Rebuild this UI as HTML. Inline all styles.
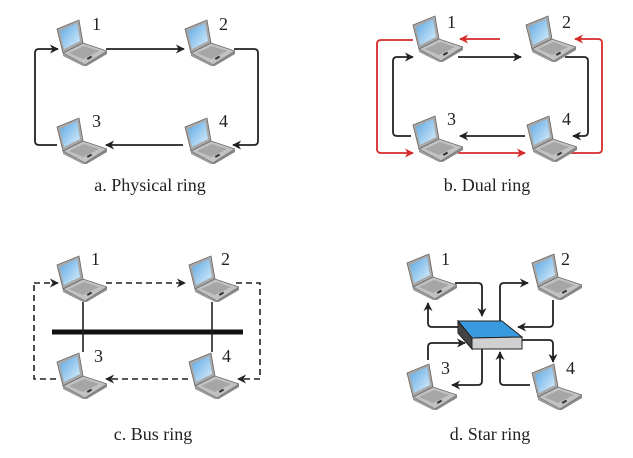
<!DOCTYPE html>
<html><head><meta charset="utf-8"><style>html,body{margin:0;padding:0;background:#fff}svg{display:block}</style></head>
<body>
<svg width="633" height="458" viewBox="0 0 633 458" xmlns="http://www.w3.org/2000/svg" font-family="Liberation Serif, serif">
<defs>
<linearGradient id="scr" x1="0" y1="0" x2="1" y2="1"><stop offset="0" stop-color="#5aa6e2"/><stop offset="1" stop-color="#dcf0fc"/></linearGradient>
<symbol id="lap" viewBox="0 0 52 47" width="52" height="47">
<polygon points="2,10 24,1 28,24 8,34" fill="#a8a8a8" stroke="#666" stroke-width="0.8"/>
<polygon points="5,12 22,4 25,22 9,30" fill="url(#scr)"/>
<polygon points="8,34 28,24 52,32 30,46" fill="#c2c2c2" stroke="#666" stroke-width="0.8"/>
<polygon points="30,46 52,32 52,35 30,48" fill="#888"/>
<polygon points="8,34 30,46 30,48 8,37" fill="#999"/>
<polygon points="14,34 29,27 44,32 28,40" fill="#a6a6a6"/>
<rect x="32" y="38" width="5" height="2" fill="#333" transform="rotate(-30 34 39)"/>
</symbol>
<marker id="ah" viewBox="0 0 10 10" refX="9" refY="5" markerWidth="9" markerHeight="9" markerUnits="userSpaceOnUse" orient="auto"><path d="M0,0 L10,5 L0,10 L3,5 Z" fill="#222"/></marker>
<marker id="ar" viewBox="0 0 10 10" refX="9" refY="5" markerWidth="9" markerHeight="9" markerUnits="userSpaceOnUse" orient="auto"><path d="M0,0 L10,5 L0,10 L3,5 Z" fill="#d42a2a"/></marker>
</defs>
<g fill="none" stroke="#222" stroke-width="1.8" stroke-linejoin="round">
<path d="M106,49 H184" marker-end="url(#ah)"/>
<path d="M234,49 H254 Q258,49 258,53 V141 Q258,145 254,145 H233" marker-end="url(#ah)"/>
<path d="M183,145 H106" marker-end="url(#ah)"/>
<path d="M57,145 H39 Q35,145 35,141 V53 Q35,49 39,49 H58" marker-end="url(#ah)"/>
<path d="M458,57 H521" marker-end="url(#ah)"/>
<path d="M565,57 H584 Q588,57 588,61 V132 Q588,136 584,136 H573" marker-end="url(#ah)"/>
<path d="M525,136 H460" marker-end="url(#ah)"/>
<path d="M411,136 H397 Q393,136 393,132 V61 Q393,57 397,57 H413" marker-end="url(#ah)"/>
</g>
<g fill="none" stroke="#d42a2a" stroke-width="1.8" stroke-linejoin="round">
<path d="M500,39 H460" marker-end="url(#ar)"/>
<path d="M413,40 H381 Q377,40 377,44 V149 Q377,153 381,153 H413" marker-end="url(#ar)"/>
<path d="M458,153 H525" marker-end="url(#ar)"/>
<path d="M565,153 H598 Q602,153 602,149 V43 Q602,39 598,39 H575" marker-end="url(#ar)"/>
</g>
<g fill="none" stroke="#222" stroke-width="1.6" stroke-dasharray="6,4">
<path d="M34,283 H58" marker-end="url(#ah)"/>
<path d="M106,283 H185" marker-end="url(#ah)"/>
<path d="M236,283 H260 V379 H238" marker-end="url(#ah)"/>
<path d="M188,379 H106" marker-end="url(#ah)"/>
<path d="M56,379 H34 V283"/>
</g>
<line x1="52" y1="332" x2="243" y2="332" stroke="#111" stroke-width="5"/>
<line x1="83" y1="302" x2="83" y2="352" stroke="#222" stroke-width="1.6"/>
<line x1="212" y1="302" x2="212" y2="352" stroke="#222" stroke-width="1.6"/>
<g fill="none" stroke="#222" stroke-width="1.8" stroke-linejoin="round">
<path d="M455,283 H478 Q482,283 482,287 V316" marker-end="url(#ah)"/>
<path d="M458,327 H432 Q428,327 428,323 V303" marker-end="url(#ah)"/>
<path d="M500,321 V287 Q500,283 504,283 H528" marker-end="url(#ah)"/>
<path d="M553,300 V323 Q553,327 549,327 H518" marker-end="url(#ah)"/>
<path d="M522,340 H549 Q553,340 553,344 V362" marker-end="url(#ah)"/>
<path d="M530,385 H504 Q500,385 500,381 V352" marker-end="url(#ah)"/>
<path d="M482,348 V381 Q482,385 478,385 H452" marker-end="url(#ah)"/>
<path d="M428,360 V347 Q428,343 432,343 H465" marker-end="url(#ah)"/>
</g>
<polygon points="458,321 502,321 522,337 472,338" fill="#3a9ae0" stroke="#222" stroke-width="1"/>
<polygon points="472,338 522,337 522,349 472,349" fill="#d0d0d0" stroke="#222" stroke-width="1"/>
<polygon points="458,321 472,338 472,349 458,333" fill="#444" stroke="#222" stroke-width="1"/>
<use href="#lap" x="55" y="19"/><use href="#lap" x="183" y="19"/><use href="#lap" x="55" y="117"/><use href="#lap" x="183" y="117"/>
<use href="#lap" x="411" y="15"/><use href="#lap" x="524" y="15"/><use href="#lap" x="411" y="115"/><use href="#lap" x="525" y="115"/>
<use href="#lap" x="55" y="255"/><use href="#lap" x="187" y="255"/><use href="#lap" x="55" y="352"/><use href="#lap" x="187" y="352"/>
<use href="#lap" x="405" y="253"/><use href="#lap" x="530" y="253"/><use href="#lap" x="405" y="363"/><use href="#lap" x="530" y="363"/>
<g font-size="18" fill="#222">
<text x="92" y="30">1</text><text x="219" y="30">2</text><text x="92" y="127">3</text><text x="219" y="127">4</text>
<text x="447" y="28">1</text><text x="562" y="28">2</text><text x="447" y="125">3</text><text x="562" y="125">4</text>
<text x="91" y="265">1</text><text x="221" y="265">2</text><text x="94" y="362">3</text><text x="222" y="362">4</text>
<text x="441" y="265">1</text><text x="561" y="265">2</text><text x="441" y="374">3</text><text x="566" y="374">4</text>
</g>
<g font-size="18" fill="#222" text-anchor="middle">
<text x="150" y="191">a. Physical ring</text>
<text x="487" y="191">b. Dual ring</text>
<text x="153" y="440">c. Bus ring</text>
<text x="490" y="440">d. Star ring</text>
</g>
</svg>
</body></html>
